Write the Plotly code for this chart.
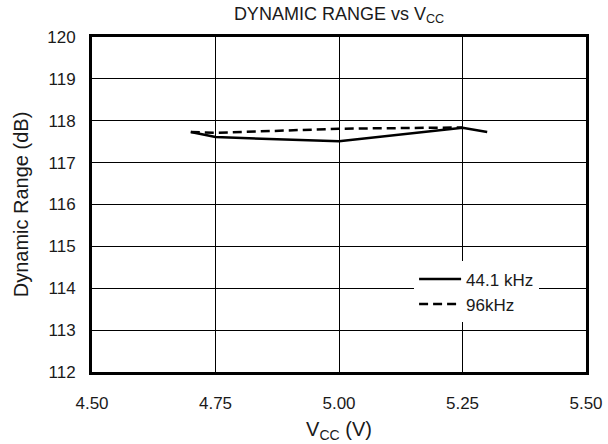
import plotly.graph_objects as go

# Data
vcc_44k = [4.70, 4.75, 5.00, 5.25, 5.30]
dr_44k = [117.73, 117.61, 117.51, 117.83, 117.73]
vcc_96k = [4.70, 4.75, 5.00, 5.25]
dr_96k = [117.73, 117.71, 117.81, 117.84]
x_ticks = [4.50, 4.75, 5.00, 5.25, 5.50]
x_tick_labels = ["4.50", "4.75", "5.00", "5.25", "5.50"]
y_ticks = [112, 113, 114, 115, 116, 117, 118, 119, 120]

FONT = "Liberation Sans, Arial, Helvetica, sans-serif"
FS = 17

fig = go.Figure()
fig.add_trace(go.Scatter(x=vcc_44k, y=dr_44k, mode="lines", name="44.1 kHz",
                         line=dict(color="black", width=2.5)))
fig.add_trace(go.Scatter(x=vcc_96k, y=dr_96k, mode="lines", name="96kHz",
                         line=dict(color="black", width=2.5, dash="9px,5px")))

fig.update_layout(
    width=608, height=444,
    margin=dict(l=92, r=22, t=37, b=72, autoexpand=False),
    paper_bgcolor="white", plot_bgcolor="white",
    font=dict(family=FONT, size=FS, color="#1a1a1a"),
    title=dict(text="DYNAMIC RANGE vs V<sub>CC</sub>", x=0.5, xref="paper",
               xanchor="center", y=0.97, yanchor="middle", font=dict(size=FS + 1),
               automargin=False),
    showlegend=True,
    legend=dict(x=0.652, y=0.33, xanchor="left", yanchor="top",
                bgcolor="white", borderwidth=0, itemwidth=42,
                font=dict(size=FS), tracegroupgap=0),
    xaxis=dict(range=[4.5, 5.5], tickvals=x_ticks, ticktext=x_tick_labels,
               showgrid=True, gridcolor="black", gridwidth=1.3,
               showline=True, linecolor="black", linewidth=3, mirror=True,
               zeroline=False, ticks="", ticklabelstandoff=14, automargin=False,
               title=dict(text="V<sub>CC</sub> (V)", standoff=10)),
    yaxis=dict(range=[112, 120], tickvals=y_ticks,
               showgrid=True, gridcolor="black", gridwidth=1.3,
               showline=True, linecolor="black", linewidth=3, mirror=True,
               zeroline=False, ticks="", ticklabelstandoff=10, automargin=False,
               title=dict(text="Dynamic Range (dB)", standoff=14)),
)

fig.write_html("out.html")
